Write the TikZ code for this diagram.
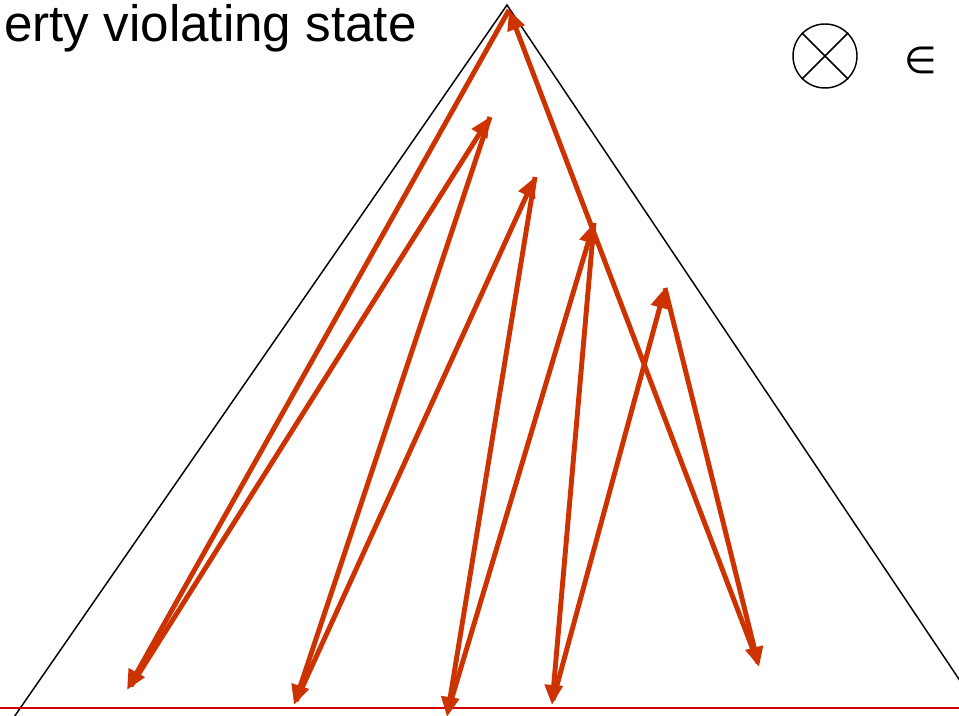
\documentclass[tikz,border=0pt]{standalone}
\usepackage{fontspec}
\setmainfont{Liberation Sans}
\newfontfamily\symbolfont{DejaVu Sans}
\usetikzlibrary{arrows.meta}
\definecolor{pathred}{RGB}{204,51,0}
\definecolor{baseline}{RGB}{210,0,0}
\tikzset{
  walk/.style={draw=pathred, line width=3.7pt, line cap=butt,
    -{Triangle[length=15pt,width=13pt]}},
  tree/.style={draw=black, line width=1.1pt},
}
\begin{document}
\begin{tikzpicture}[x=0.75pt,y=-0.75pt]
\useasboundingbox (0,0) rectangle (959,716);
\begin{scope}
\clip (0,0) rectangle (959,716);
% state-space triangle
\coordinate (top) at (507,5);
\coordinate (leftfoot) at (12,720);
\coordinate (rightfoot) at (985,718);
\draw[tree] (leftfoot) -- (top) -- (rightfoot);
% depth bound
\coordinate (bl) at (0,708);
\coordinate (br) at (959,708);
\draw[draw=baseline, line width=1.5pt] (bl) -- (br);

% search trace
\coordinate (r) at (509,10);
\coordinate (l1) at (127,690);
\coordinate (a) at (490,117);
\coordinate (l2) at (294,705);
\coordinate (b) at (535,177);
\coordinate (l3) at (447,717);
\coordinate (c) at (594,223);
\coordinate (l4) at (552,705);
\coordinate (d) at (665,288);
\coordinate (l5) at (759,667);

\draw[walk] (r) -- (l1);
\draw[walk] ([shift={(4,-4)}]l1) -- (a);
\draw[walk] (a) -- (l2);
\draw[walk] ([shift={(2,-4)}]l2) -- (b);
\draw[walk] (b) -- (l3);
\draw[walk] ([shift={(1,-6)}]l3) -- (c);
\draw[walk] (c) -- (l4);
\draw[walk] ([shift={(1,-5)}]l4) -- (d);
\draw[walk] (d) -- (l5);
\draw[walk] ([shift={(-1,-4)}]l5) -- (r);
\end{scope}

% title
\node[anchor=base east, inner sep=0pt, font=\fontsize{38.4}{38.4}\selectfont] (title) at (417,42) {erty violating state};

% legend
\node[circle, draw, line width=1.1pt, minimum size=48pt, inner sep=0pt] (bad) at (825,56) {};
\draw[line width=1.1pt] (bad.north west) -- (bad.south east);
\draw[line width=1.1pt] (bad.north east) -- (bad.south west);
\node[inner sep=0pt, font=\symbolfont\fontsize{28}{28}\selectfont] (elem) at (921,60) {∈};
\end{tikzpicture}
\end{document}
